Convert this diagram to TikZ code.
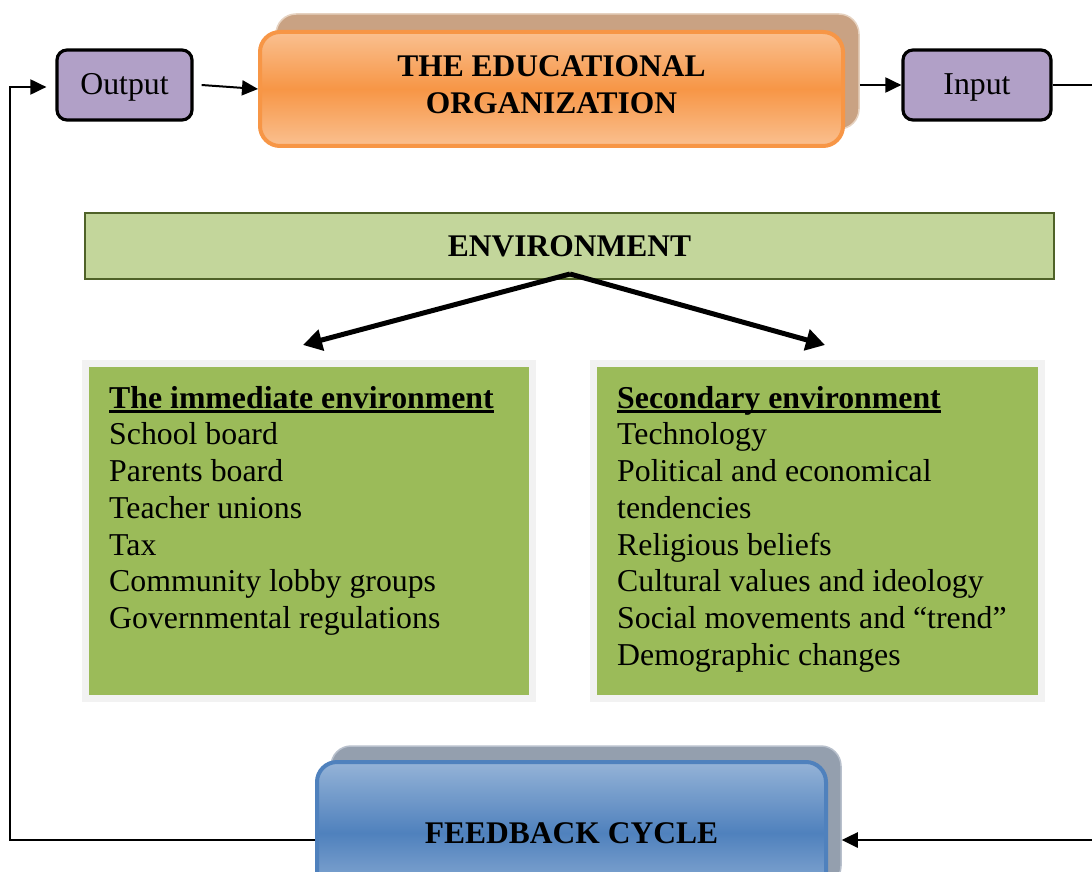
\documentclass[tikz,border=0pt]{standalone}
\usepackage{fontspec}
\setmainfont{Liberation Serif}
\usetikzlibrary{arrows.meta}
\definecolor{purp}{HTML}{B1A0C7}
\definecolor{orng}{HTML}{F79646}
\definecolor{orngl}{HTML}{FAC090}
\definecolor{tanb}{HTML}{C9A283}
\definecolor{tanl}{HTML}{E6D2C0}
\definecolor{envg}{HTML}{C3D69B}
\definecolor{envd}{HTML}{4F6228}
\definecolor{boxg}{HTML}{9BBB59}
\definecolor{frameg}{HTML}{F2F2F2}
\definecolor{blu}{HTML}{4F81BD}
\definecolor{blul}{HTML}{95B3D7}
\definecolor{slate}{HTML}{949FAE}
\definecolor{slatel}{HTML}{B8C0CC}
\newcommand\ulbold[1]{\setbox0\hbox{\bfseries #1}\rlap{\rule[-5pt]{\wd0}{2.8pt}}\box0}
\begin{document}
\begin{tikzpicture}[x=1pt,y=-1pt, font=\fontsize{31.8}{36.7}\selectfont,
  iobox/.style={draw=black, line width=3.2pt, fill=purp, rounded corners=10pt,
    minimum width=135pt, minimum height=70pt, inner sep=0, text height=27pt, text depth=7pt},
  backbox/.style={rounded corners=20pt, inner sep=0},
  frontbox/.style={rounded corners=20pt, inner sep=0, line width=4pt, align=center,
    font=\fontsize{31.5}{37}\selectfont\bfseries},
  greenbox/.style={fill=boxg, draw=frameg, line width=7pt, minimum width=447pt,
    minimum height=335pt, inner sep=0},
  listtext/.style={anchor=north west, inner sep=0, align=left},
  conn/.style={line width=2pt, -{Triangle[length=16pt,width=15pt]}},
  bigarrow/.style={line width=5pt, -{Triangle[length=19pt,width=21pt]}}
]
\useasboundingbox (0,0) rectangle (1092,872);

% top row
\node[iobox] (out) at (124.5,85) {Output};
\node[iobox, minimum width=148pt] (in) at (977,85) {Input};
\node[backbox, fill=tanb, draw=tanl, line width=1.5pt, minimum width=583pt,
  minimum height=115pt] (orgb) at (567.5,71.5) {};
\node[frontbox, draw=orng, top color=orngl, bottom color=orngl, middle color=orng,
  minimum width=583pt, minimum height=114pt, text depth=8pt] (org) at (551.5,89)
  {THE EDUCATIONAL\\ORGANIZATION};

% environment
\node[draw=envd, fill=envg, line width=2.4pt, minimum width=969pt, minimum height=66pt,
  inner sep=0, font=\fontsize{31.5}{37}\selectfont\bfseries] (env) at (569.5,246) {ENVIRONMENT};

% lists
\node[greenbox] (lbox) at (309,531) {};
\node[greenbox, minimum width=448pt] (rbox) at (817.5,531) {};
\node[listtext] (ltext) at ([shift={(27,26)}]lbox.north west)
  {\ulbold{The immediate environment}\\School board\\Parents board\\Teacher unions\\Tax\\
   Community lobby groups\\Governmental regulations};
\node[listtext] (rtext) at ([shift={(27,26)}]rbox.north west)
  {\ulbold{Secondary environment}\\Technology\\Political and economical\\tendencies\\
   Religious beliefs\\Cultural values and ideology\\Social movements and “trend”\\
   Demographic changes};

% feedback
\node[backbox, fill=slate, draw=slatel, line width=1.5pt, minimum width=510pt,
  minimum height=140pt] (fbb) at (586,816) {};
\node[frontbox, draw=blu, top color=blul, bottom color=blul, middle color=blu,
  minimum width=509pt, minimum height=142pt] (fb) at (571.5,833) {FEEDBACK CYCLE};

% connectors
\coordinate (envsrc) at (570,274);
\coordinate (la) at (303,345);
\coordinate (ra) at (825,345);
\draw[bigarrow] (envsrc) -- (la);
\draw[bigarrow] (envsrc) -- (ra);

\draw[conn] ([xshift=8pt]out.east) -- (org.west);
\draw[conn] (orgb.east |- in.west) -- (in.west);

\coordinate (rt) at (1100,85);
\coordinate (rb) at (1100,840);
\draw[conn, line width=2.6pt] (in.east) -- (rt) -- (rb) -- (fbb.east |- rb);

\coordinate (lb) at (10,840);
\coordinate (lt) at (10,87);
\draw[conn] (fb.west |- lb) -- (lb) -- (lt) -- ([xshift=-9pt]out.west |- lt);
\end{tikzpicture}
\end{document}
